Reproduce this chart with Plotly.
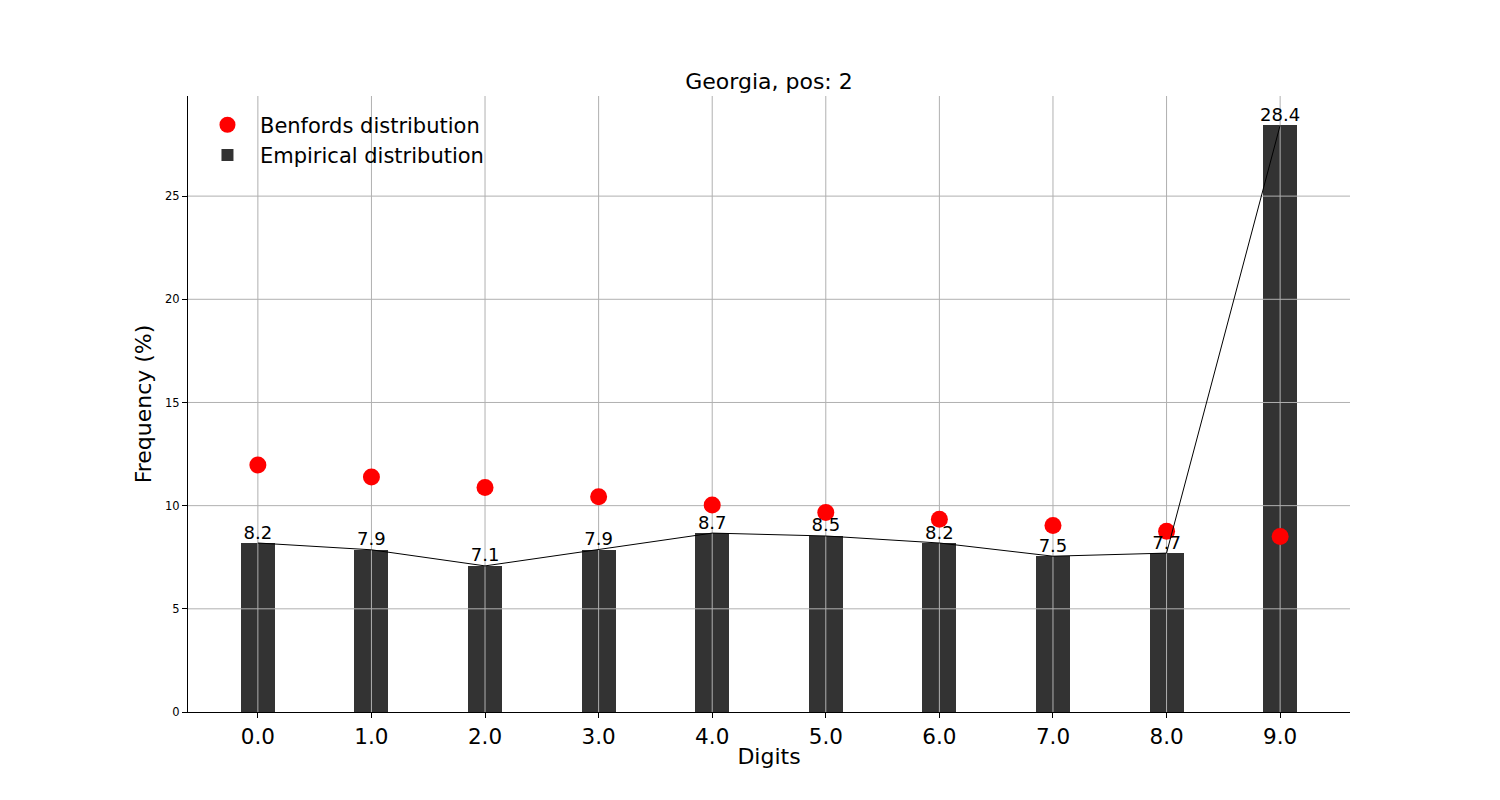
import plotly.graph_objects as go

digits = [0, 1, 2, 3, 4, 5, 6, 7, 8, 9]
empirical = [8.19, 7.86, 7.08, 7.86, 8.67, 8.53, 8.19, 7.55, 7.70, 28.43]
benford = [11.97, 11.39, 10.88, 10.43, 10.03, 9.67, 9.34, 9.04, 8.76, 8.50]
ytick_vals = [0, 5, 10, 15, 20, 25]
title = "Georgia, pos: 2"

FONT = "DejaVu Sans"
ymax = max(empirical) * 1.05
bw = 0.3
xmin = min(digits) - bw / 2
xmax = max(digits) + bw / 2
pad = (xmax - xmin) * 0.05
xr = [xmin - pad, xmax + pad]

fig = go.Figure()

fig.add_trace(go.Bar(
    x=digits, y=empirical, width=bw, marker=dict(color="#333333", line=dict(width=0)),
    name="Empirical distribution", legendrank=2,
))

# grid drawn above bars but below markers
gx, gy = [], []
for d in digits:
    gx += [d, d, None]
    gy += [0, ymax, None]
for t in ytick_vals[1:]:
    gx += [xr[0], xr[1], None]
    gy += [t, t, None]
fig.add_trace(go.Scatter(x=gx, y=gy, mode="lines", line=dict(color="#b0b0b0", width=1),
                         showlegend=False, hoverinfo="skip"))

fig.add_trace(go.Scatter(
    x=digits, y=benford, mode="markers", marker=dict(color="#ff0000", size=17),
    name="Benfords distribution", legendrank=1,
))

fig.add_trace(go.Scatter(x=digits, y=empirical, mode="lines", line=dict(color="black", width=1),
                         showlegend=False, hoverinfo="skip"))

fig.add_trace(go.Scatter(
    x=digits, y=empirical, mode="text", text=[f"{v:.1f}" for v in empirical],
    textposition="top center", textfont=dict(size=18, color="black", family=FONT),
    showlegend=False, hoverinfo="skip",
))

fig.update_layout(
    width=1500, height=800,
    paper_bgcolor="white", plot_bgcolor="white",
    margin=dict(l=180, r=158, t=88, b=96),
    font=dict(family=FONT, color="black"),
    title=dict(text=title, x=(180 + 1342) / 2 / 1500, xanchor="center", y=1 - 73 / 800,
               yanchor="middle", font=dict(size=22)),
    showlegend=True,
    legend=dict(x=0.006, y=0.986, xanchor="left", yanchor="top", bgcolor="rgba(0,0,0,0)",
                font=dict(size=21), traceorder="normal", itemsizing="trace", itemwidth=55),
    bargap=0,
)
fig.update_xaxes(
    range=xr, tickvals=digits, ticktext=[f"{d:.1f}" for d in digits],
    tickfont=dict(size=21.5), showgrid=False, zeroline=False,
    showline=True, linecolor="black", linewidth=1, ticks="outside", ticklen=5,
    tickcolor="black", title=dict(text="Digits", font=dict(size=22), standoff=0),
)
fig.update_yaxes(
    range=[0, ymax], tickvals=ytick_vals, tickfont=dict(size=11.5), showgrid=False,
    zeroline=False, showline=True, linecolor="black", linewidth=1, ticks="outside",
    ticklen=5, tickcolor="black", title=dict(text="Frequency (%)", font=dict(size=22), standoff=7),
)

fig.write_html("out.html")
